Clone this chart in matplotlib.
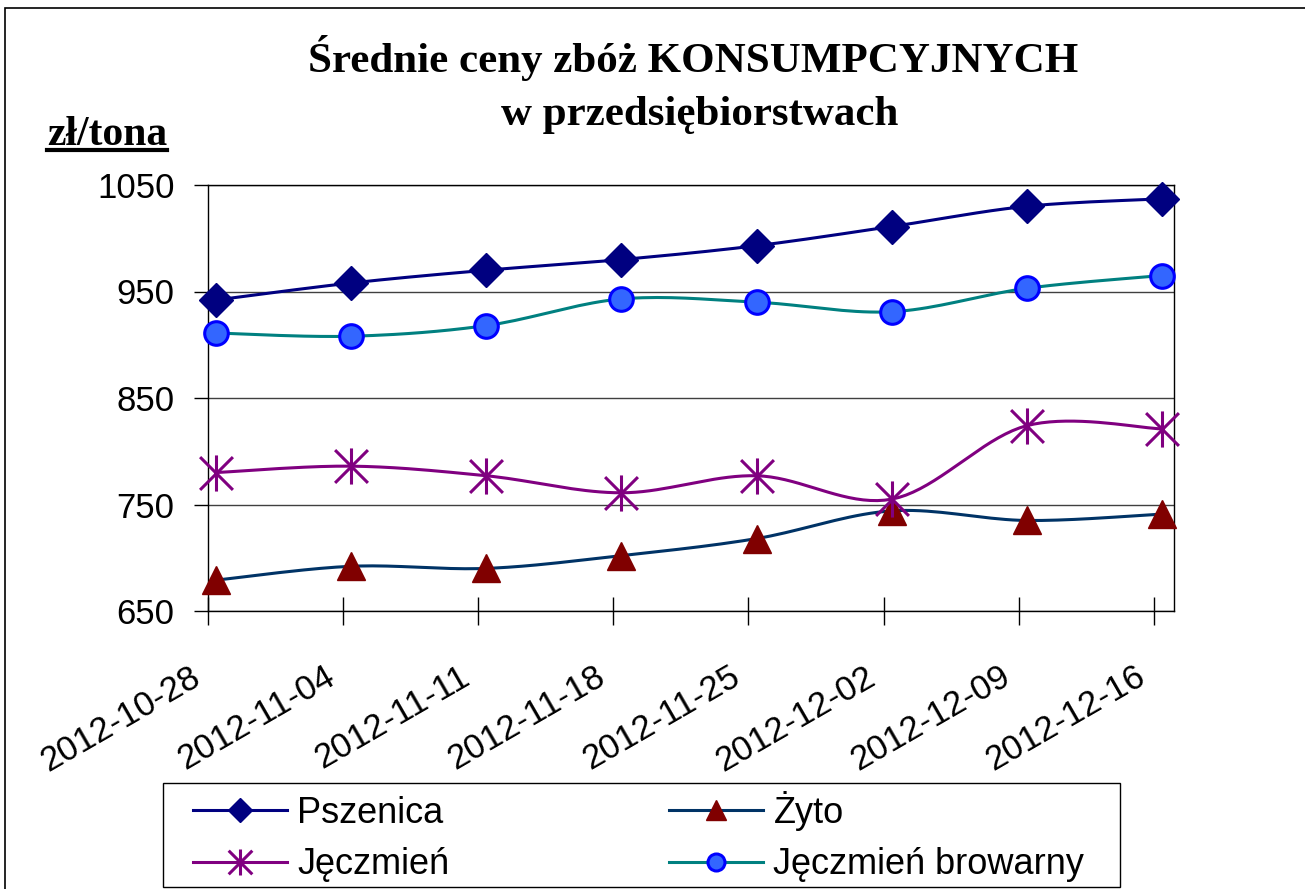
#!/usr/bin/env python3
"""Srednie ceny zboz konsumpcyjnych - wykres liniowy"""

import matplotlib
matplotlib.use('Agg')
import matplotlib.pyplot as plt
import matplotlib.transforms as mtransforms
from matplotlib.lines import Line2D
from matplotlib.path import Path
from matplotlib.patches import Rectangle
import numpy as np

# --- data -----------------------------------------------------------------
dates = ['2012-10-28', '2012-11-04', '2012-11-11', '2012-11-18',
         '2012-11-25', '2012-12-02', '2012-12-09', '2012-12-16']
pszenica = [942, 958, 970, 980, 993, 1011, 1030, 1037]
zyto = [679, 692, 690, 702, 718, 744, 735, 741]
jeczmien = [780, 786, 777, 761, 777, 755, 824, 821]
jeczmien_browarny = [911, 908, 918, 943, 940, 931, 953, 965]

title_lines = ['Średnie ceny zbóż KONSUMPCYJNYCH', 'w przedsiębiorstwach']
unit_label = 'zł/tona'
y_ticks = [650, 750, 850, 950, 1050]


def smooth(x, y, steps=20):
    """Excel-like smoothed line (Catmull-Rom style bezier)"""
    x = np.asarray(x, float)
    y = np.asarray(y, float)
    n = len(x)
    xs, ys = [], []
    for i in range(n - 1):
        i0 = max(i - 1, 0)
        i3 = min(i + 2, n - 1)
        p0 = np.array([x[i], y[i]])
        p3 = np.array([x[i + 1], y[i + 1]])
        c1 = p0 + (p3 - np.array([x[i0], y[i0]])) / 6.0
        c2 = p3 - (np.array([x[i3], y[i3]]) - p0) / 6.0
        t = np.linspace(0, 1, steps)[:, None]
        pts = ((1 - t) ** 3) * p0 + 3 * ((1 - t) ** 2) * t * c1 \
            + 3 * (1 - t) * t ** 2 * c2 + t ** 3 * p3
        if i > 0:
            pts = pts[1:]
        xs.extend(pts[:, 0])
        ys.extend(pts[:, 1])
    return np.array(xs), np.array(ys)


# asterisk marker: X plus vertical bar
star_path = Path(
    [(-1, -1), (1, 1), (-1, 1), (1, -1), (0, -1.1), (0, 1.1)],
    [Path.MOVETO, Path.LINETO, Path.MOVETO, Path.LINETO, Path.MOVETO, Path.LINETO])

W, H = 1305, 889
fig = plt.figure(figsize=(W / 100, H / 100), dpi=100)
fig.patch.set_facecolor('white')
fig.patches.append(Rectangle((5 / W, -0.1), 1.2, (H - 8) / H + 0.1,
                             transform=fig.transFigure, fill=False,
                             edgecolor='black', linewidth=1.2))

ax = fig.add_axes([208 / W, 1 - 611 / H, (1174 - 208) / W, (611 - 185) / H])

x = np.arange(len(dates)) + 0.06

series = [
    # label, values, line colour, marker, ms, face, edge, mew
    ('Pszenica', pszenica, '#000080', 'D', 17, '#000080', '#000080', 1),
    ('Żyto', zyto, '#003366', '^', 20, '#800000', '#800000', 1),
    ('Jęczmień', jeczmien, '#800080', star_path, 26, 'none', '#800080', 2.2),
    ('Jęczmień browarny', jeczmien_browarny, '#008080', 'o', 17, '#3366FF', '#0000FF', 2.2),
]

handles = {}
for label, vals, lc, mk, ms, fc, ec, mew in series:
    sx, sy = smooth(x, vals)
    ax.plot(sx, sy, color=lc, linewidth=2.2, zorder=3, clip_on=False)
    ax.plot(x, vals, linestyle='none', marker=mk, markersize=ms,
            markerfacecolor=fc, markeredgecolor=ec, markeredgewidth=mew,
            zorder=4, clip_on=False)
    handles[label] = Line2D([], [], color=lc, linewidth=2.2, marker=mk,
                            markersize=ms * 0.72, markerfacecolor=fc,
                            markeredgecolor=ec, markeredgewidth=mew)

ax.set_xlim(0, 7.15)
ax.set_ylim(650, 1050)
ax.set_yticks(y_ticks)
ax.set_xticks(np.arange(len(dates)))
ax.set_xticklabels(dates, rotation=30, ha='right', va='top',
                   rotation_mode='anchor')
ax.tick_params(axis='y', direction='out', length=10, width=1, pad=14,
               labelsize=25)
ax.tick_params(axis='x', direction='inout', length=20, width=1, pad=8,
               labelsize=25)
shift = mtransforms.ScaledTranslation(-0.19, -0.24, fig.dpi_scale_trans)
for lbl in ax.get_xticklabels():
    lbl.set_transform(lbl.get_transform() + shift)
for lbl in ax.get_xticklabels() + ax.get_yticklabels():
    lbl.set_fontfamily('Liberation Sans')

ax.grid(True, axis='y', color='#404040', linewidth=1)
ax.set_axisbelow(True)
for sp in ax.spines.values():
    sp.set_color('black')
    sp.set_linewidth(1)

# title
fig.text(693 / W, 1 - 58 / H, title_lines[0], ha='center', va='center',
         fontsize=31, fontweight='bold', family='Liberation Serif')
fig.text(700 / W, 1 - 115 / H, title_lines[1], ha='center', va='center',
         fontsize=31, fontweight='bold', family='Liberation Serif')

unit = fig.text(47 / W, 1 - 145 / H, unit_label, ha='left', va='baseline',
                fontsize=30, fontweight='bold', family='Liberation Serif')
fig.canvas.draw()
bb = unit.get_window_extent()
fig.add_artist(Line2D([bb.x0 / W, bb.x1 / W], [(H - 150) / H] * 2,
                      transform=fig.transFigure, color='black', linewidth=3))

# legend: frame drawn separately, entries placed inside it
fig.patches.append(Rectangle((163 / W, 1 - 887 / H), (1120 - 163) / W,
                             (887 - 783) / H, transform=fig.transFigure,
                             fill=False, edgecolor='black', linewidth=1))
order = ['Pszenica', 'Jęczmień', 'Żyto', 'Jęczmień browarny']
leg = fig.legend([handles[k] for k in order], order, ncol=2,
                 loc='upper left', bbox_to_anchor=(193 / W, 1 - 791 / H),
                 borderaxespad=0, borderpad=0, frameon=False,
                 handlelength=2.6, handletextpad=0.28, labelspacing=0.45,
                 columnspacing=6.1,
                 prop={'family': 'Liberation Sans', 'size': 26})

fig.savefig('out.png', dpi=100)
